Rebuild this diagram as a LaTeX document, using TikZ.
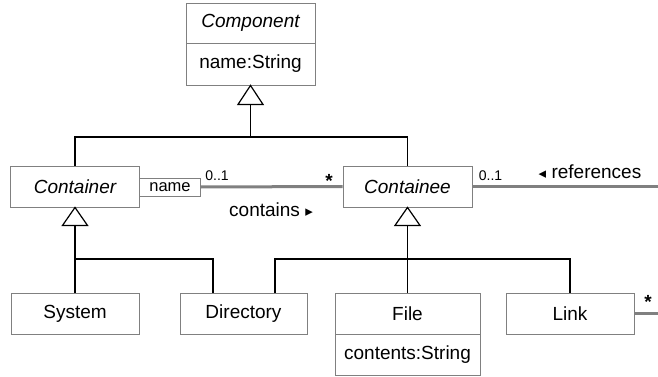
\documentclass[tikz,border=0pt]{standalone}
\usepackage{fontspec}
\setmainfont{Liberation Sans}
\newfontfamily\symfont{DejaVu Sans}
\usetikzlibrary{calc}
\definecolor{boxgray}{HTML}{808080}
\definecolor{assocgray}{HTML}{808080}
\begin{document}
\begin{tikzpicture}[x=1pt,y=-1pt,
  cls/.style={draw=boxgray, line width=0.9pt, inner sep=0pt, fill=white,
    minimum width=129pt, minimum height=41pt, font=\fontsize{19}{22}\selectfont},
  abstr/.style={cls, font=\fontsize{19}{22}\selectfont\itshape},
  gen/.style={draw=black, line width=1.4pt},
  assoc/.style={draw=assocgray, line width=3pt},
  tri/.style={draw=black, line width=1.2pt, fill=white, line join=miter},
  small/.style={inner sep=0pt, font=\fontsize{14}{16}\selectfont},
  lbl/.style={inner sep=0pt, font=\fontsize{19}{22}\selectfont},
  mult/.style={inner sep=0pt, anchor=north, font=\fontsize{19}{22}\selectfont\bfseries}]
\useasboundingbox (0,0) rectangle (658,377);

% classes
\node[abstr, minimum height=40pt] (comp) at (250.5,23) {Component};
\node[cls, minimum height=42pt] (compattr) at (250.5,64) {name:String};
\node[abstr] (container) at (75,186.5) {Container};
\node[cls, minimum width=61pt, minimum height=18pt, font=\fontsize{16.5}{18}\selectfont] (qual) at (170,187) {name};
\node[abstr] (containee) at (407.5,186.5) {Containee};
\node[cls, minimum width=128pt] (system) at (75,313.5) {System};
\node[cls, minimum width=127pt] (directory) at (243.5,313.5) {Directory};
\node[cls, minimum width=145pt] (file) at (407.5,313.5) {File};
\node[cls, minimum width=145pt] (fileattr) at (407.5,354.5) {contents:String};
\node[cls, minimum width=128pt] (link) at (570,313.5) {Link};

% helper coordinates
\coordinate (bar1) at (0,137);
\coordinate (bar2) at (0,259);
\coordinate (t1) at ($(compattr.south)+(0,19)$);
\coordinate (t2) at ($(container.south)+(0,18)$);
\coordinate (t3) at ($(containee.south)+(0,18)$);
\coordinate (dirL) at ($(directory.north)+(-30.5,0)$);
\coordinate (dirR) at ($(directory.north)+(31.5,0)$);
\coordinate (refend) at (658,186.5);
\coordinate (linkend) at (658,313.5);

% generalizations
\draw[gen] (t1) -- (t1 |- bar1);
\draw[gen] (container.north) -- (container.north |- bar1) -- (containee.north |- bar1) -- (containee.north);
\draw[gen] (t2) -- (t2 |- bar2);
\draw[gen] (system.north) -- (system.north |- bar2) -- (dirL |- bar2) -- (dirL);
\draw[gen] (t3) -- (file.north);
\draw[gen] (dirR) -- (dirR |- bar2) -- (link.north |- bar2) -- (link.north);
\draw[tri] (compattr.south) -- ++(12.5,19) -- ++(-25,0) -- cycle;
\draw[tri] (container.south) -- ++(12.5,18) -- ++(-25,0) -- cycle;
\draw[tri] (containee.south) -- ++(12.5,18) -- ++(-25,0) -- cycle;

% associations
\draw[assoc] (qual.east) -- (containee.west);
\draw[assoc] (containee.east) -- (refend);
\draw[assoc] (link.east) -- (linkend);

% labels
\node[small] (m1) at (217,176) {0..1};
\node[mult] (m2) at (329,174) {*};
\node[lbl] (contains) at (271,209.5) {contains {\symfont\fontsize{15}{18}\selectfont ▸}};
\node[small] (m3) at (490.5,176) {0..1};
\node[lbl] (refs) at (590,172) {{\symfont\fontsize{15}{18}\selectfont ◂} references};
\node[mult] (m4) at (648,295) {*};
\end{tikzpicture}
\end{document}
